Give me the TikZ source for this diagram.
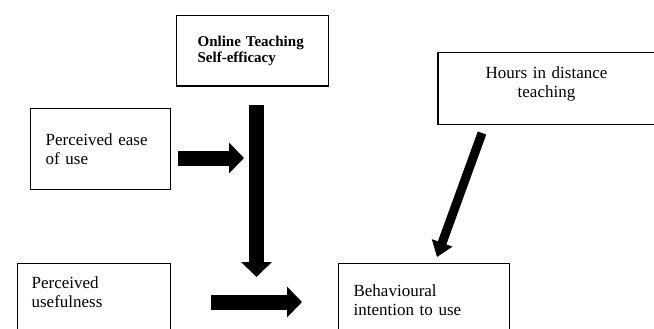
\documentclass[tikz,border=0pt]{standalone}
\usepackage{fontspec}
\setmainfont{Liberation Serif}
\usetikzlibrary{arrows.meta,positioning}

\tikzset{
  box/.style={draw, line width=1.2pt, align=left, font=\fontsize{17}{19}\selectfont},
  fatarrow/.style={line width=15pt, -{Triangle[width=30pt,length=15pt]}},
  slimarrow/.style={line width=9pt, -{Triangle[width=21pt,length=15pt]}},
}

\begin{document}
\begin{tikzpicture}[x=1pt,y=-1pt]
    \clip (0,0) rectangle (654,329);
    % boxes
    \node[box, anchor=north west, font=\bfseries\fontsize{15}{16}\selectfont,
          text width=110pt, inner xsep=21pt, inner ysep=20pt, text depth=20pt]
          (ote) at (176,15) {Online Teaching\\Self-efficacy};
    \node[box, anchor=north, align=center, text width=191pt, inner xsep=13pt,
          inner ysep=14pt, text depth=32pt]
          (hours) at (546.5,52) {Hours in distance\\teaching};
    \node[box, anchor=north west, text width=110pt, inner xsep=15pt, minimum height=81pt]
          (ease) at (30,108) {Perceived ease\\of use};
    \node[box, anchor=north west, text width=125pt, inner xsep=14pt, inner ysep=13pt,
          text depth=60pt]
          (useful) at (17,263) {Perceived\\usefulness};
    \node[box, anchor=north west, text width=141pt, inner xsep=15pt, inner ysep=21pt,
          text depth=60pt]
          (behav) at (338,263) {Behavioural\\intention to use};

    % arrow ends
    \coordinate (ease out) at (178,158);
    \coordinate (ease in) at (244,158);
    \coordinate (ote out) at (256.5,105);
    \coordinate (ote in) at (256.5,277);
    \coordinate (useful out) at (211,302);
    \coordinate (useful in) at (302,302);
    \coordinate (hours out) at (482,133);
    \coordinate (hours in) at (437,257);

    % arrows
    \draw[fatarrow] (ease out) -- (ease in);
    \draw[fatarrow] (ote out) -- (ote in);
    \draw[fatarrow] (useful out) -- (useful in);
    \draw[slimarrow] (hours out) -- (hours in);
\end{tikzpicture}
\end{document}
